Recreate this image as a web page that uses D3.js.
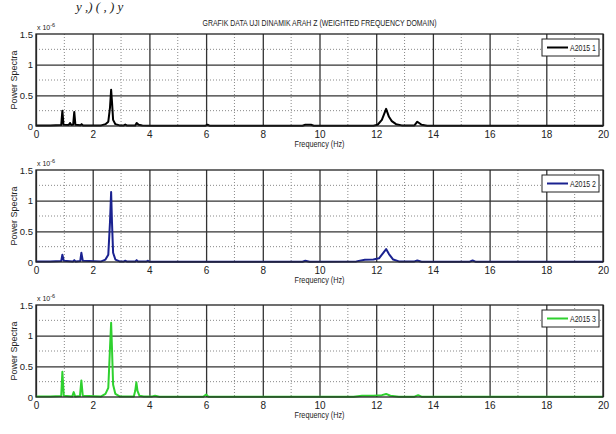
<!DOCTYPE html>
<html>
<head>
<meta charset="utf-8">
<script src="https://cdn.jsdelivr.net/npm/d3@7"></script>
<style>
  body { margin: 0; background: #fff; }
  svg { display: block; }
  text { font-family: "Liberation Sans", Arial, sans-serif; }
</style>
</head>
<body>
<script>
var w = 616;
var h = 434;

var title = "GRAFIK DATA UJI DINAMIK ARAH Z (WEIGHTED FREQUENCY DOMAIN)";
var seriesNames = ["A2015 1", "A2015 2", "A2015 3"];
var seriesColors = ["#000000", "#1a2290", "#2fd12f"];
var xTicks = [0, 2, 4, 6, 8, 10, 12, 14, 16, 18, 20];
var yTicks = [0, 0.5, 1, 1.5];
var yTickLabels = ["0", "0.5", "1", "1.5"];

// [frequency Hz, power x 1e-6]
var a2015_1 = [
  [0, 0.01], [0.5, 0.01], [0.89, 0.015], [0.93, 0.25], [0.97, 0.02],
  [1.15, 0.015], [1.2, 0.05], [1.25, 0.015], [1.31, 0.02], [1.35, 0.23], [1.39, 0.02],
  [1.57, 0.012], [1.61, 0.03], [1.66, 0.01], [2.3, 0.01], [2.45, 0.03], [2.55, 0.07],
  [2.61, 0.3], [2.65, 0.59], [2.68, 0.4], [2.72, 0.1], [2.8, 0.03], [2.95, 0.01],
  [3.1, 0.01], [3.15, 0.025], [3.2, 0.01], [3.5, 0.01], [3.55, 0.05], [3.62, 0.02],
  [3.75, 0.008], [4.1, 0.005], [5.98, 0.005], [6.05, 0.02], [6.12, 0.005],
  [9.4, 0.005], [9.5, 0.02], [9.7, 0.02], [9.8, 0.005], [11.9, 0.005], [12.05, 0.02],
  [12.2, 0.1], [12.35, 0.28], [12.45, 0.15], [12.55, 0.08], [12.7, 0.03], [12.9, 0.01],
  [13.35, 0.01], [13.45, 0.07], [13.6, 0.02], [13.8, 0.005], [20, 0.005]
];

var a2015_2 = [
  [0, 0.01], [0.5, 0.01], [0.89, 0.015], [0.93, 0.12], [0.98, 0.02],
  [1.3, 0.01], [1.35, 0.03], [1.4, 0.01], [1.56, 0.015], [1.6, 0.15], [1.65, 0.02],
  [2.3, 0.01], [2.45, 0.04], [2.55, 0.12], [2.61, 0.65], [2.65, 1.14], [2.68, 0.65],
  [2.72, 0.15], [2.8, 0.04], [2.95, 0.01], [3.1, 0.01], [3.15, 0.02], [3.2, 0.01],
  [3.5, 0.01], [3.55, 0.03], [3.6, 0.01], [3.9, 0.01], [3.95, 0.02], [4.0, 0.005],
  [9.4, 0.005], [9.5, 0.02], [9.65, 0.005], [11.3, 0.01], [11.6, 0.035], [11.9, 0.04],
  [12.1, 0.06], [12.25, 0.15], [12.35, 0.21], [12.45, 0.13], [12.6, 0.04], [12.8, 0.01],
  [13.35, 0.01], [13.45, 0.025], [13.6, 0.005], [15.3, 0.005], [15.4, 0.025],
  [15.5, 0.005], [20, 0.005]
];

var a2015_3 = [
  [0, 0.01], [0.5, 0.01], [0.89, 0.015], [0.93, 0.41], [0.98, 0.02],
  [1.28, 0.01], [1.33, 0.08], [1.38, 0.01], [1.55, 0.015], [1.6, 0.27], [1.65, 0.02],
  [2.3, 0.01], [2.45, 0.05], [2.55, 0.15], [2.61, 0.8], [2.65, 1.21], [2.68, 0.8],
  [2.72, 0.2], [2.8, 0.05], [2.95, 0.01], [3.45, 0.01], [3.5, 0.1], [3.54, 0.24],
  [3.58, 0.1], [3.65, 0.02], [3.8, 0.01], [4.1, 0.01], [4.2, 0.02], [4.35, 0.005],
  [5.9, 0.005], [6.0, 0.04], [6.08, 0.005], [11.2, 0.005], [11.5, 0.02], [11.9, 0.02],
  [12.2, 0.03], [12.35, 0.05], [12.5, 0.02], [12.8, 0.005], [13.35, 0.005],
  [13.48, 0.03], [13.6, 0.005], [20, 0.005]
];

var allSeries = [a2015_1, a2015_2, a2015_3];

var left = 36, right = 603, plotH = 92;
var tops = [34, 170, 305];

var svg = d3.select("body").append("svg")
  .attr("width", w)
  .attr("height", h);

// document text remnant at the very top
svg.append("text")
  .attr("x", 76).attr("y", 11)
  .style("font-family", "Liberation Serif, serif")
  .style("font-style", "italic")
  .style("font-size", "13px")
  .attr("fill", "#222")
  .text("y ,)  (  ,  )  y");

svg.append("text")
  .attr("x", (left + right) / 2)
  .attr("y", 26)
  .attr("text-anchor", "middle")
  .style("font-size", "8.5px")
  .attr("textLength", 234)
  .attr("lengthAdjust", "spacingAndGlyphs")
  .attr("fill", "#222")
  .text(title);

var xScale = d3.scaleLinear().domain([0, 20]).range([left, right]);

allSeries.forEach((data, i) => {
  var top = tops[i];
  var yScale = d3.scaleLinear().domain([0, 1.5]).range([top + plotH, top]);
  var g = svg.append("g");

  // minor dotted grid
  d3.range(1, 20, 2).forEach(v => {
    g.append("line")
      .attr("x1", xScale(v)).attr("x2", xScale(v))
      .attr("y1", top).attr("y2", top + plotH)
      .attr("stroke", "#888").attr("stroke-dasharray", "1,2");
  });
  [0.25, 0.75, 1.25].forEach(v => {
    g.append("line")
      .attr("x1", left).attr("x2", right)
      .attr("y1", yScale(v)).attr("y2", yScale(v))
      .attr("stroke", "#888").attr("stroke-dasharray", "1,2");
  });

  // major grid
  g.append("g")
    .attr("transform", `translate(0,${top + plotH})`)
    .call(d3.axisBottom(xScale).tickValues(xTicks).tickSize(-plotH).tickFormat(""))
    .call(a => a.select(".domain").remove())
    .selectAll("line").attr("stroke", "#333").attr("stroke-width", 1.3);
  g.append("g")
    .attr("transform", `translate(${left},0)`)
    .call(d3.axisLeft(yScale).tickValues([0.5, 1]).tickSize(-(right - left)).tickFormat(""))
    .call(a => a.select(".domain").remove())
    .selectAll("line").attr("stroke", "#333").attr("stroke-width", 1.3);

  // tick labels
  var xAxis = g.append("g")
    .attr("transform", `translate(0,${top + plotH})`)
    .call(d3.axisBottom(xScale).tickValues(xTicks).tickSize(0).tickPadding(5));
  xAxis.select(".domain").remove();
  xAxis.selectAll("text").style("font-size", "10px").attr("fill", "#222");

  var yAxis = g.append("g")
    .attr("transform", `translate(${left},0)`)
    .call(d3.axisLeft(yScale).tickValues(yTicks).tickSize(0).tickPadding(3)
      .tickFormat((d, k) => yTickLabels[k]));
  yAxis.select(".domain").remove();
  yAxis.selectAll("text").style("font-size", "9.5px").attr("fill", "#222");

  // exponent label
  var ex = g.append("text")
    .attr("x", left + 1).attr("y", top - 4)
    .style("font-size", "7px").attr("fill", "#222");
  ex.append("tspan").text("x 10");
  ex.append("tspan").attr("dy", -3).style("font-size", "5.5px").text("-6");

  // data line
  var line = d3.line()
    .x(d => xScale(d[0]))
    .y(d => yScale(d[1]));
  g.append("path")
    .datum(data)
    .attr("d", line)
    .attr("fill", "none")
    .attr("stroke", seriesColors[i])
    .attr("stroke-width", 2)
    .attr("stroke-linejoin", "round");

  // frame
  g.append("rect")
    .attr("x", left).attr("y", top)
    .attr("width", right - left).attr("height", plotH)
    .attr("fill", "none").attr("stroke", "#222").attr("stroke-width", 1.3);

  // axis titles
  g.append("text")
    .attr("transform", `translate(17,${top + plotH / 2}) rotate(-90)`)
    .attr("text-anchor", "middle")
    .style("font-size", "9px").attr("fill", "#222")
    .text("Power Spectra");
  g.append("text")
    .attr("x", (left + right) / 2).attr("y", top + plotH + 21)
    .attr("text-anchor", "middle")
    .style("font-size", "8.5px")
    .attr("textLength", 50)
    .attr("lengthAdjust", "spacingAndGlyphs")
    .attr("fill", "#222")
    .text("Frequency (Hz)");

  // legend
  var lx = 542, ly = top + 5;
  g.append("rect")
    .attr("x", lx).attr("y", ly).attr("width", 57).attr("height", 17)
    .attr("fill", "#fff").attr("stroke", "#222").attr("stroke-width", 1);
  g.append("line")
    .attr("x1", lx + 5).attr("x2", lx + 26)
    .attr("y1", ly + 8.5).attr("y2", ly + 8.5)
    .attr("stroke", seriesColors[i]).attr("stroke-width", 2);
  g.append("text")
    .attr("x", lx + 28).attr("y", ly + 11.5)
    .style("font-size", "8.5px")
    .attr("textLength", 26)
    .attr("lengthAdjust", "spacingAndGlyphs")
    .attr("fill", "#222")
    .text(seriesNames[i]);
});
</script>
</body>
</html>
